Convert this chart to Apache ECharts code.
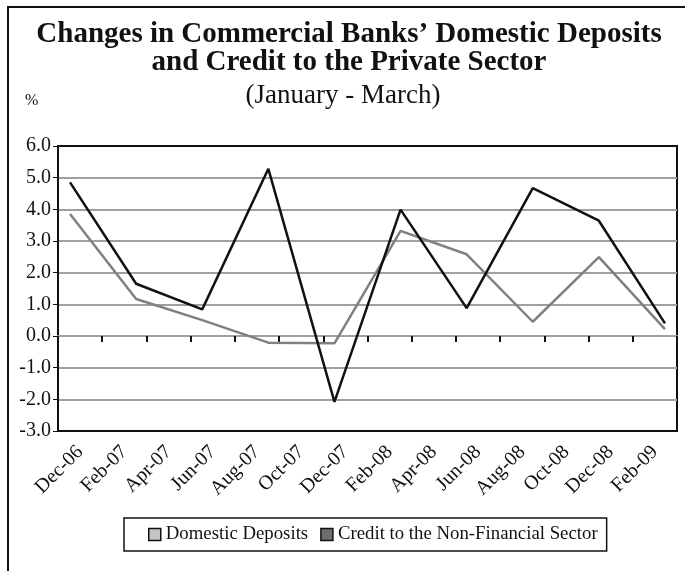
<!DOCTYPE html>
<html>
<head>
<meta charset="utf-8">
<script src="https://cdn.jsdelivr.net/npm/echarts@6/dist/echarts.min.js"></script>
<style>
  html, body { margin: 0; padding: 0; background: #fff; }
  #chart { width: 685px; height: 571px; }
</style>
</head>
<body>
<div id="chart"></div>
<script>
// Bi-monthly labels along the category axis
const monthLabels = ['Dec-06', 'Feb-07', 'Apr-07', 'Jun-07', 'Aug-07', 'Oct-07', 'Dec-07',
                     'Feb-08', 'Apr-08', 'Jun-08', 'Aug-08', 'Oct-08', 'Dec-08', 'Feb-09'];

// Quarterly observations (percent change)
const domesticDeposits = [3.85, 1.17, 0.50, -0.21, -0.23, 3.32, 2.58, 0.45, 2.49, 0.22];
const creditNonFinancial = [4.85, 1.65, 0.84, 5.28, -2.08, 3.99, 0.88, 4.67, 3.64, 0.40];

const yTicks = { min: -3, max: 6, step: 1 };

const FONT = '"Liberation Serif", "Times New Roman", serif';

const toPoints = arr => arr.map((v, i) => [i, v]);
const pad = 0.182;

// outer gridlines are drawn black so they read as the plot frame
const nLines = (yTicks.max - yTicks.min) / yTicks.step + 1;
const splitColors = Array.from({ length: nLines }, (_, i) =>
  (i === 0 || i === nLines - 1) ? '#111' : '#a0a0a0');

const chart = echarts.init(document.getElementById('chart'), null, { renderer: 'canvas' });

chart.setOption({
  backgroundColor: '#fff',
  animation: false,
  graphic: [
    {
      type: 'rect',
      shape: { x: 8, y: 7, width: 720, height: 600 },
      style: { fill: 'none', stroke: '#111', lineWidth: 2 },
      z: 0
    },
    {
      type: 'text',
      x: 349,
      y: 21,
      style: {
        text: 'Changes in Commercial Banks’ Domestic Deposits\nand Credit to the Private Sector',
        font: 'bold 29px ' + FONT,
        fill: '#111',
        align: 'center',
        lineHeight: 28
      }
    },
    {
      type: 'text',
      x: 343,
      y: 82,
      style: {
        text: '(January - March)',
        font: '27px ' + FONT,
        fill: '#111',
        align: 'center'
      }
    },
    {
      type: 'text',
      left: 25,
      top: 93,
      style: { text: '%', font: '16px ' + FONT, fill: '#111' }
    }
  ],
  legend: {
    left: 124,
    top: 518,
    padding: [7, 9, 7, 24],
    itemGap: 12,
    itemWidth: 12,
    itemHeight: 12,
    borderColor: '#111',
    borderWidth: 1.5,
    selectedMode: false,
    textStyle: { fontFamily: FONT, fontSize: 18.8, color: '#111' },
    data: [
      { name: 'Domestic Deposits', icon: 'rect',
        itemStyle: { color: '#c4c4c4', borderColor: '#111', borderWidth: 1.5 } },
      { name: 'Credit to the Non-Financial Sector', icon: 'rect',
        itemStyle: { color: '#6e6e6e', borderColor: '#111', borderWidth: 1.5 } }
    ]
  },
  grid: {
    left: 58,
    right: 8,
    top: 146,
    bottom: 140,
    show: true,
    borderColor: '#111',
    borderWidth: 2,
    backgroundColor: 'transparent'
  },
  xAxis: [
    {
      type: 'category',
      data: monthLabels,
      boundaryGap: true,
      axisLine: { onZero: true, lineStyle: { color: '#a0a0a0', width: 2 } },
      axisTick: { show: true, length: 6, lineStyle: { color: '#111', width: 2 } },
      axisLabel: {
        rotate: 45,
        margin: 18,
        interval: 0,
        fontFamily: FONT,
        fontSize: 20,
        color: '#111'
      },
      splitLine: { show: false }
    },
    {
      type: 'value',
      show: false,
      min: -pad,
      max: 9 + pad,
      splitLine: { show: false }
    }
  ],
  yAxis: {
    type: 'value',
    min: yTicks.min,
    max: yTicks.max,
    interval: yTicks.step,
    axisLine: { show: true, onZero: false, lineStyle: { color: '#111', width: 2 } },
    axisTick: { show: true, length: 5, lineStyle: { color: '#111', width: 1 } },
    axisLabel: {
      margin: 7,
      fontFamily: FONT,
      fontSize: 20,
      color: '#111',
      formatter: v => v.toFixed(1)
    },
    splitLine: { show: true, lineStyle: { color: splitColors, width: 2 } }
  },
  series: [
    {
      name: 'Domestic Deposits',
      type: 'line',
      xAxisIndex: 1,
      data: toPoints(domesticDeposits),
      showSymbol: false,
      color: '#808080',
      lineStyle: { color: '#808080', width: 2.5 },
      z: 3
    },
    {
      name: 'Credit to the Non-Financial Sector',
      type: 'line',
      xAxisIndex: 1,
      data: toPoints(creditNonFinancial),
      showSymbol: false,
      color: '#111',
      lineStyle: { color: '#111', width: 2.5 },
      z: 4
    }
  ]
});
</script>
</body>
</html>
